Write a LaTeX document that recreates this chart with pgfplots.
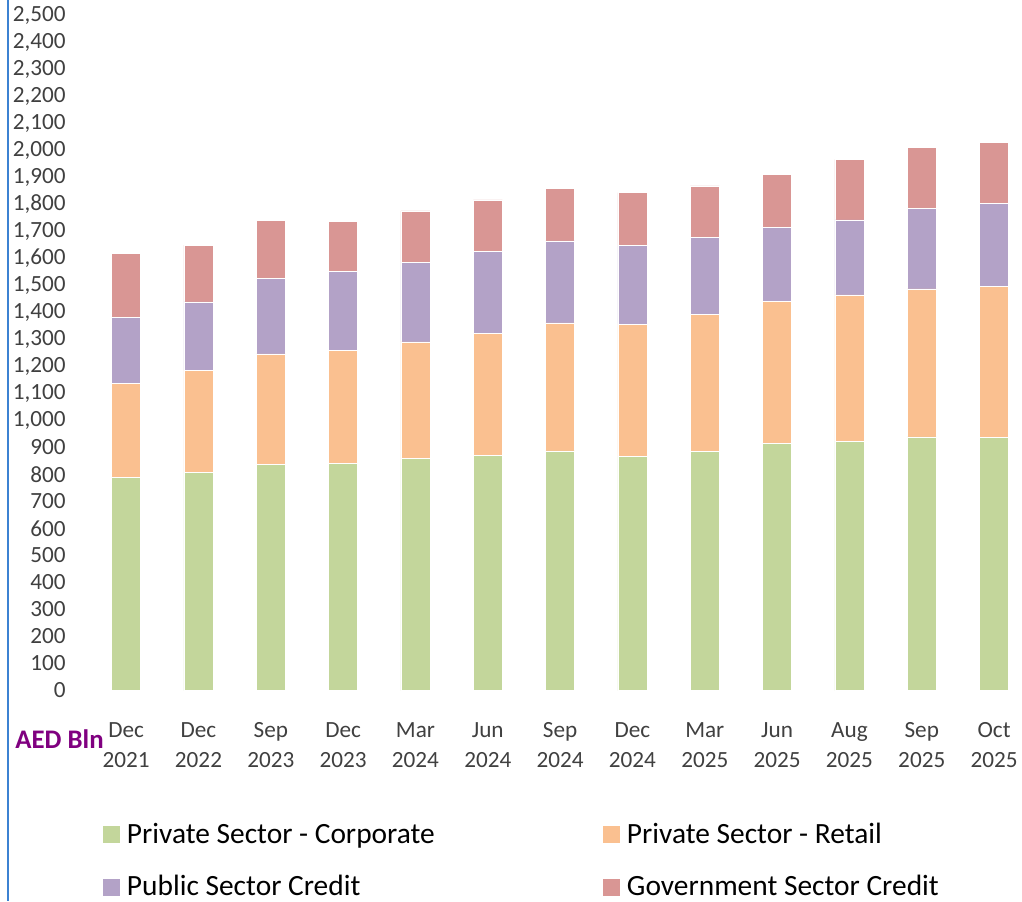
\documentclass[border=0pt]{standalone}
\usepackage{pgfplots}
\usepackage{pgfplotstable}
\pgfplotsset{compat=1.18}
\usepackage{fontspec}
\setmainfont{Carlito}
\definecolor{cgreen}{HTML}{C3D69B}
\definecolor{corange}{HTML}{FAC090}
\definecolor{cpurple}{HTML}{B3A2C7}
\definecolor{cred}{HTML}{D99694}
\definecolor{ctick}{HTML}{404040}
\definecolor{cframe}{HTML}{3C82D2}
\definecolor{cpurp}{HTML}{800080}
\pgfplotstableread{
x corp retail public gov
0 789 348 244 238
1 809 377 253 211
2 838 409 280 213
3 841 419 293 185
4 860 431 296 189
5 871 452 304 190
6 888 474 303 195
7 867 490 292 195
8 887 506 286 190
9 915 525 276 196
10 924 541 278 224
11 939 549 298 226
12 938 558 308 225
}\loans
\newcommand{\lent}[1]{\makebox[238pt][l]{#1}}
\begin{document}
\begin{tikzpicture}
\path[use as bounding box] (0,0) rectangle (511pt,-450.5pt);
\draw[cframe, line width=1pt] (3.75pt,0) -- (3.75pt,-450.5pt);
\begin{axis}[
  at={(45pt,-345.25pt)}, anchor=south west,
  scale only axis, width=466.5pt, height=337.5pt,
  xmin=-0.5, xmax=12.4, ymin=0, ymax=2500,
  ybar stacked, bar width=14.5pt,
  axis line style={draw=none}, major tick length=0pt,
  ytick={0,100,...,2500},
  xtick={0,...,12},
  xticklabels={{Dec\\2021},{Dec\\2022},{Sep\\2023},{Dec\\2023},{Mar\\2024},{Jun\\2024},{Sep\\2024},{Dec\\2024},{Mar\\2025},{Jun\\2025},{Aug\\2025},{Sep\\2025},{Oct\\2025}},
  scaled y ticks=false,
  /pgf/number format/1000 sep={,},
  /pgf/number format/assume math mode=true,
  yticklabel style={anchor=east, inner sep=0pt, xshift=-12pt, font=\fontsize{11.6}{14}\selectfont, text=ctick},
  xticklabel style={anchor=north, inner sep=0pt, yshift=-16pt, align=center, font=\fontsize{11.6}{15}\selectfont, text=ctick},
  legend columns=2,
  legend style={at={(axis description cs:0.01393,-0.1963)}, anchor=north west, draw=none, fill=none, inner sep=0pt, outer sep=0pt, row sep=14.5pt,
    nodes={inner sep=0pt, font=\fontsize{14.7}{17}\selectfont},
    /tikz/every odd column/.append style={column sep=3.5pt}},
  legend image code/.code={\path[#1,draw=none] (0pt,-4.25pt) rectangle (8.5pt,4.25pt);},
  clip=false,
]
\addplot[fill=cgreen, draw=white, line width=0.25pt] table[x=x,y=corp] {\loans};
\addlegendentry{\lent{Private Sector - Corporate}}
\addplot[fill=corange, draw=white, line width=0.25pt] table[x=x,y=retail] {\loans};
\addlegendentry{\lent{Private Sector - Retail}}
\addplot[fill=cpurple, draw=white, line width=0.25pt] table[x=x,y=public] {\loans};
\addlegendentry{\lent{Public Sector Credit}}
\addplot[fill=cred, draw=white, line width=0.25pt] table[x=x,y=gov] {\loans};
\addlegendentry{\lent{Government Sector Credit}}
\end{axis}
\node[anchor=base west, font=\fontsize{13.4}{15}\selectfont\bfseries, text=cpurp, inner sep=0pt] at (7.5pt,-374pt) {AED Bln};
\end{tikzpicture}
\end{document}
